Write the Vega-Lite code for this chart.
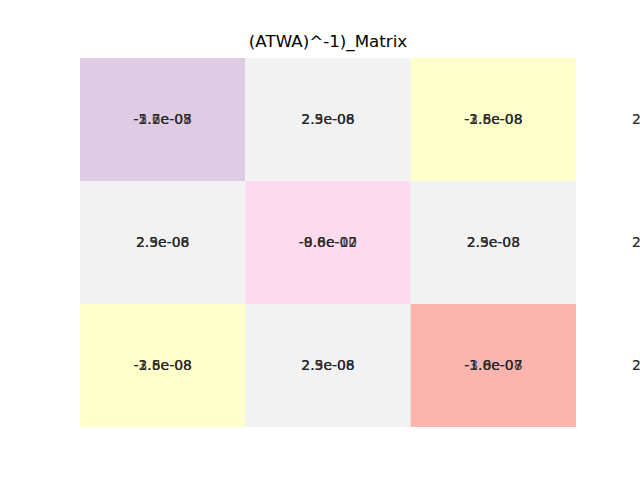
{
  "$schema": "https://vega.github.io/schema/vega-lite/v6.json",
  "autosize": {"type": "none"},
  "padding": {"left": 80, "top": 58, "right": 64, "bottom": 53},
  "width": 496,
  "height": 369,
  "background": "white",
  "config": {"view": {"stroke": null}},
  "title": {
    "text": "(ATWA)^-1)_Matrix",
    "font": "DejaVu Sans",
    "fontSize": 16.7,
    "fontWeight": "normal",
    "color": "black",
    "anchor": "middle",
    "offset": 7
  },
  "datasets": {
    "matrix": [
      {"row": 0, "col": 0, "value": -5.2e-08},
      {"row": 0, "col": 1, "value": 2.3e-08},
      {"row": 0, "col": 2, "value": -2.5e-08},
      {"row": 1, "col": 0, "value": 2.3e-08},
      {"row": 1, "col": 1, "value": -9.0e-10},
      {"row": 1, "col": 2, "value": 2.3e-08},
      {"row": 2, "col": 0, "value": -2.5e-08},
      {"row": 2, "col": 1, "value": 2.3e-08},
      {"row": 2, "col": 2, "value": -1.0e-07}
    ],
    "labels": [
      {"row": 0, "col": 0, "label": "-1.7e-07"},
      {"row": 0, "col": 0, "label": "-5.2e-08"},
      {"row": 0, "col": 0, "label": "-2.6e-05"},
      {"row": 0, "col": 1, "label": "2.3e-08"},
      {"row": 0, "col": 1, "label": "2.5e-08"},
      {"row": 0, "col": 1, "label": "2.9e-06"},
      {"row": 0, "col": 2, "label": "-2.5e-08"},
      {"row": 0, "col": 2, "label": "-3.6e-08"},
      {"row": 0, "col": 2, "label": "-1.8e-08"},
      {"row": 0, "col": 3, "label": "2.5e-08"},
      {"row": 0, "col": 3, "label": "2.3e-08"},
      {"row": 1, "col": 0, "label": "2.3e-08"},
      {"row": 1, "col": 0, "label": "2.5e-08"},
      {"row": 1, "col": 0, "label": "2.9e-06"},
      {"row": 1, "col": 1, "label": "-9.0e-10"},
      {"row": 1, "col": 1, "label": "-8.6e-07"},
      {"row": 1, "col": 1, "label": "-0.8e-02"},
      {"row": 1, "col": 2, "label": "2.3e-08"},
      {"row": 1, "col": 2, "label": "2.5e-08"},
      {"row": 1, "col": 2, "label": "2.9e-03"},
      {"row": 1, "col": 3, "label": "2.5e-08"},
      {"row": 1, "col": 3, "label": "2.3e-08"},
      {"row": 2, "col": 0, "label": "-2.5e-08"},
      {"row": 2, "col": 0, "label": "-3.6e-08"},
      {"row": 2, "col": 0, "label": "-1.8e-08"},
      {"row": 2, "col": 1, "label": "2.3e-08"},
      {"row": 2, "col": 1, "label": "2.5e-08"},
      {"row": 2, "col": 1, "label": "2.9e-06"},
      {"row": 2, "col": 2, "label": "-1.0e-07"},
      {"row": 2, "col": 2, "label": "-3.6e-07"},
      {"row": 2, "col": 2, "label": "-1.8e-08"},
      {"row": 2, "col": 3, "label": "2.5e-08"},
      {"row": 2, "col": 3, "label": "2.3e-08"}
    ]
  },
  "layer": [
    {
      "data": {"name": "matrix"},
      "transform": [
        {"calculate": "datum.col - 0.5", "as": "x0"},
        {"calculate": "datum.col + 0.5", "as": "x1"},
        {"calculate": "datum.row - 0.5", "as": "y0"},
        {"calculate": "datum.row + 0.5", "as": "y1"}
      ],
      "mark": {"type": "rect", "stroke": null},
      "encoding": {
        "x": {"field": "x0", "type": "quantitative", "scale": {"domain": [-0.5, 2.5], "nice": false, "zero": false}, "axis": null},
        "x2": {"field": "x1"},
        "y": {"field": "y0", "type": "quantitative", "scale": {"domain": [-0.5, 2.5], "nice": false, "zero": false, "reverse": true}, "axis": null},
        "y2": {"field": "y1"},
        "color": {
          "field": "value",
          "type": "quantitative",
          "scale": {
            "type": "quantize",
            "domain": [-1.0e-07, 2.5e-08],
            "range": ["#fbb4ae", "#b3cde3", "#ccebc5", "#decbe4", "#fed9a6", "#ffffcc", "#e5d8bd", "#fddaec", "#f2f2f2"]
          },
          "legend": null
        }
      }
    },
    {
      "data": {"name": "labels"},
      "mark": {"type": "text", "font": "DejaVu Sans", "fontSize": 13.9, "color": "#262626", "align": "center", "baseline": "middle", "opacity": 0.8},
      "encoding": {
        "x": {"field": "col", "type": "quantitative"},
        "y": {"field": "row", "type": "quantitative"},
        "text": {"field": "label", "type": "nominal"}
      }
    }
  ]
}
